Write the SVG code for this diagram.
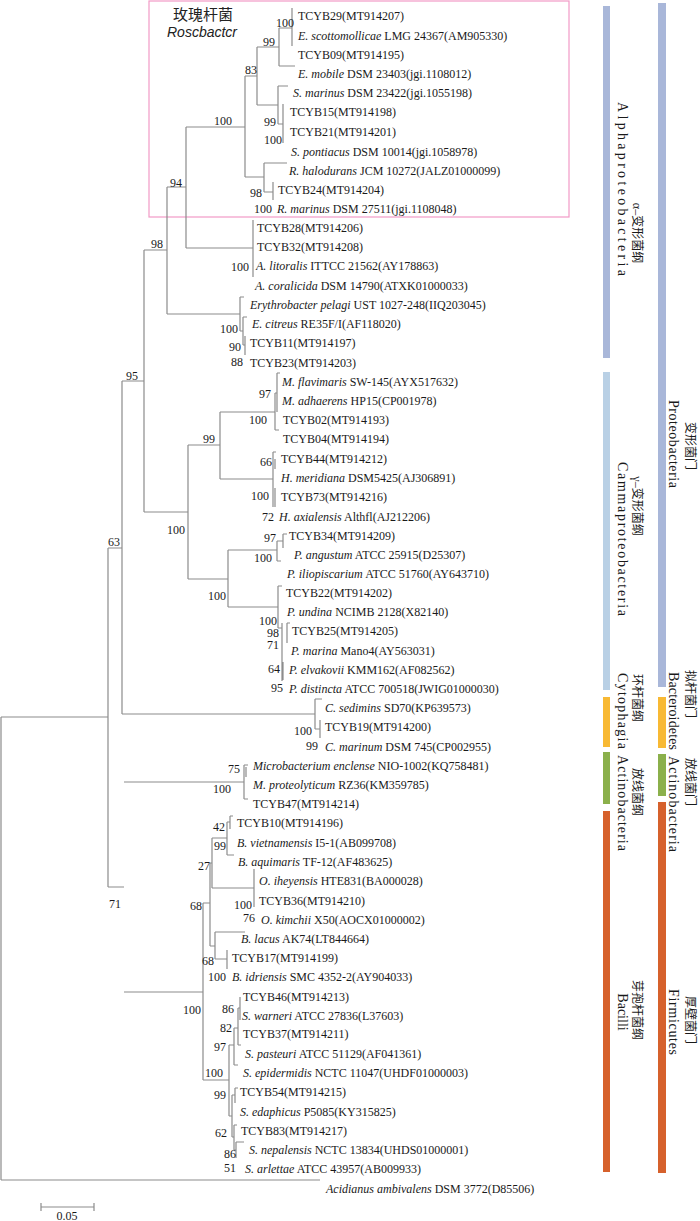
<svg xmlns="http://www.w3.org/2000/svg" width="700" height="1221" viewBox="0 0 700 1221">
<style>
.l{stroke:#8c8c8c;stroke-width:1.2;fill:none}
.t{font-family:"Liberation Serif","Times New Roman",serif;font-size:12px;fill:#1a1a1a}
.i{font-style:italic}
.b{font-family:"Liberation Serif","Times New Roman",serif;font-size:12px;fill:#1a1a1a;text-anchor:middle}
.cn{font-family:"Liberation Serif","Noto Sans CJK SC",serif;font-size:12px;fill:#1a1a1a;text-anchor:middle}
.en{font-family:"Liberation Serif","Times New Roman",serif;font-size:14px;fill:#1a1a1a;text-anchor:middle}
</style>
<rect width="700" height="1221" fill="#ffffff"/>
<g id="roseobacter-box">
<rect x="149" y="1" width="420" height="216" fill="none" stroke="#f29ac6" stroke-width="1.2"/>
<text x="203" y="20" font-family="Noto Sans CJK SC,sans-serif" font-size="15" text-anchor="middle" fill="#222">玫瑰杆菌</text>
<text x="202" y="37" font-family="Liberation Sans,Arial,sans-serif" font-size="14" font-style="italic" text-anchor="middle" fill="#222">Roscbactcr</text>
</g>
<g id="connectors" class="l">
<path d="M1,717V1180M1,717H108M1,1180H320M108,548V887M108,548H122M108,887H124M122,381V714M122,381H144M122,714H315M144,250V512M144,250H167M144,512H188M167,187V314M167,187H186M167,314H240M186,127V248M186,127H245M186,248H253M253,220V277"/>
<path d="M245,76V177M245,76H257M245,177H264M257,47V105M257,47H279M257,105H278M279,28V66M279,28H292M279,66H295M292,8V46M278,86V124M278,86H288M278,124H283M283,104V143M264,163V192M264,163H287M264,192H273M273,182V200"/>
<path d="M240,297V331M240,297H244M240,331H243M243,317V345M243,317H247M243,345H245M245,336V355"/>
<path d="M188,445V579M188,445H220M188,579H228M220,412V479M220,412H275M220,479H273M275,393V430M275,393H277M277,373V412M277,373H280M275,430H279M273,452V507M273,452H276M275,459V469M275,488V507M228,550V607M228,550H277M228,607H278M277,541V561M277,541H283M277,561H281M283,534V548M283,534H287M278,586V628M278,586H282M278,628H282M282,623V681M287,623V643M287,623H290M283,662V680"/>
<path d="M315,699V729M315,699H322M315,729H320M320,720V738"/>
<path d="M124,782H244M244,765V799M244,765H248M244,799H248M246,767V777"/>
<path d="M124,992H203M203,903V1080M203,903H210M203,1080H229M210,863V946M210,863H212M210,946H215M212,838V888M212,838H227M212,888H254M227,822V855M227,822H230M227,855H234M230,816V829M230,816H233M254,869V907M215,932V959M215,932H245M215,959H227M227,950V969"/>
<path d="M229,1045V1116M229,1045H234M229,1116H232M234,1028V1065M234,1028H238M234,1065H238M238,1008V1045M238,1008H240M238,1045H241M240,997V1020M232,1095V1137M232,1095H235M232,1137H234M235,1088V1103M235,1088H238M234,1125V1150M234,1125H237M234,1150H236M236,1142V1158M236,1142H244"/>
</g>
<g id="leaves" class="t">
<g id="n1"><text x="298" y="20">TCYB29(MT914207)</text></g>
<g id="n2"><text x="298" y="40"><tspan class="i">E. scottomollicae</tspan> LMG 24367(AM905330)</text></g>
<g id="n3"><text x="298" y="59">TCYB09(MT914195)</text></g>
<g id="n4"><text x="298" y="78"><tspan class="i">E. mobile</tspan> DSM 23403(jgi.1108012)</text></g>
<g id="n5"><text x="293" y="97"><tspan class="i">S. marinus</tspan> DSM 23422(jgi.1055198)</text></g>
<g id="n6"><text x="290" y="116">TCYB15(MT914198)</text></g>
<g id="n7"><text x="290" y="136">TCYB21(MT914201)</text></g>
<g id="n8"><text x="291" y="156"><tspan class="i">S. pontiacus</tspan> DSM 10014(jgi.1058978)</text></g>
<g id="n9"><text x="289" y="175"><tspan class="i">R. halodurans</tspan> JCM 10272(JALZ01000099)</text></g>
<g id="n10"><text x="278" y="194">TCYB24(MT914204)</text></g>
<g id="n11"><text x="277" y="213"><tspan class="i">R. marinus</tspan> DSM 27511(jgi.1108048)</text></g>
<g id="n12"><text x="257" y="232">TCYB28(MT914206)</text></g>
<g id="n13"><text x="257" y="251">TCYB32(MT914208)</text></g>
<g id="n14"><text x="256" y="270"><tspan class="i">A. litoralis</tspan> ITTCC 21562(AY178863)</text></g>
<g id="n15"><text x="255" y="290"><tspan class="i">A. coralicida</tspan> DSM 14790(ATXK01000033)</text></g>
<g id="n16"><text x="250" y="309"><tspan class="i">Erythrobacter pelagi</tspan> UST 1027-248(IIQ203045)</text></g>
<g id="n17"><text x="252" y="328"><tspan class="i">E. citreus</tspan> RE35F/I(AF118020)</text></g>
<g id="n18"><text x="250" y="347">TCYB11(MT914197)</text></g>
<g id="n19"><text x="250" y="367">TCYB23(MT914203)</text></g>
<g id="n20"><text x="282" y="386"><tspan class="i">M. flavimaris</tspan> SW-145(AYX517632)</text></g>
<g id="n21"><text x="282" y="405"><tspan class="i">M. adhaerens</tspan> HP15(CP001978)</text></g>
<g id="n22"><text x="283" y="424">TCYB02(MT914193)</text></g>
<g id="n23"><text x="283" y="443">TCYB04(MT914194)</text></g>
<g id="n24"><text x="281" y="463">TCYB44(MT914212)</text></g>
<g id="n25"><text x="281" y="482"><tspan class="i">H. meridiana</tspan> DSM5425(AJ306891)</text></g>
<g id="n26"><text x="281" y="501">TCYB73(MT914216)</text></g>
<g id="n27"><text x="279" y="521"><tspan class="i">H. axialensis</tspan> Althfl(AJ212206)</text></g>
<g id="n28"><text x="289" y="540">TCYB34(MT914209)</text></g>
<g id="n29"><text x="294" y="559"><tspan class="i">P. angustum</tspan> ATCC 25915(D25307)</text></g>
<g id="n30"><text x="287" y="578"><tspan class="i">P. iliopiscarium</tspan> ATCC 51760(AY643710)</text></g>
<g id="n31"><text x="286" y="597">TCYB22(MT914202)</text></g>
<g id="n32"><text x="287" y="616"><tspan class="i">P. undina</tspan> NCIMB 2128(X82140)</text></g>
<g id="n33"><text x="292" y="635">TCYB25(MT914205)</text></g>
<g id="n34"><text x="291" y="655"><tspan class="i">P. marina</tspan> Mano4(AY563031)</text></g>
<g id="n35"><text x="289" y="674"><tspan class="i">P. elvakovii</tspan> KMM162(AF082562)</text></g>
<g id="n36"><text x="289" y="693"><tspan class="i">P. distincta</tspan> ATCC 700518(JWIG01000030)</text></g>
<g id="n37"><text x="325" y="712"><tspan class="i">C. sedimins</tspan> SD70(KP639573)</text></g>
<g id="n38"><text x="325" y="731">TCYB19(MT914200)</text></g>
<g id="n39"><text x="325" y="751"><tspan class="i">C. marinum</tspan> DSM 745(CP002955)</text></g>
<g id="n40"><text x="253" y="770"><tspan class="i">Microbacterium enclense</tspan>  NIO-1002(KQ758481)</text></g>
<g id="n41"><text x="253" y="789"><tspan class="i">M. proteolyticum</tspan> RZ36(KM359785)</text></g>
<g id="n42"><text x="253" y="808">TCYB47(MT914214)</text></g>
<g id="n43"><text x="237" y="827">TCYB10(MT914196)</text></g>
<g id="n44"><text x="237" y="847"><tspan class="i">B. vietnamensis</tspan> I5-1(AB099708)</text></g>
<g id="n45"><text x="238" y="866"><tspan class="i">B. aquimaris</tspan> TF-12(AF483625)</text></g>
<g id="n46"><text x="259" y="885"><tspan class="i">O. iheyensis</tspan> HTE831(BA000028)</text></g>
<g id="n47"><text x="259" y="905">TCYB36(MT914210)</text></g>
<g id="n48"><text x="261" y="924"><tspan class="i">O. kimchii</tspan> X50(AOCX01000002)</text></g>
<g id="n49"><text x="241" y="943"><tspan class="i">B. lacus</tspan> AK74(LT844664)</text></g>
<g id="n50"><text x="232" y="962">TCYB17(MT914199)</text></g>
<g id="n51"><text x="232" y="981"><tspan class="i">B. idriensis</tspan> SMC 4352-2(AY904033)</text></g>
<g id="n52"><text x="243" y="1001">TCYB46(MT914213)</text></g>
<g id="n53"><text x="242" y="1020"><tspan class="i">S. warneri</tspan> ATCC 27836(L37603)</text></g>
<g id="n54"><text x="243" y="1038">TCYB37(MT914211)</text></g>
<g id="n55"><text x="245" y="1058"><tspan class="i">S. pasteuri</tspan> ATCC 51129(AF041361)</text></g>
<g id="n56"><text x="243" y="1077"><tspan class="i">S. epidermidis</tspan> NCTC 11047(UHDF01000003)</text></g>
<g id="n57"><text x="240" y="1096">TCYB54(MT914215)</text></g>
<g id="n58"><text x="240" y="1116"><tspan class="i">S. edaphicus</tspan> P5085(KY315825)</text></g>
<g id="n59"><text x="241" y="1135">TCYB83(MT914217)</text></g>
<g id="n60"><text x="249" y="1154"><tspan class="i">S. nepalensis</tspan> NCTC 13834(UHDS01000001)</text></g>
<g id="n61"><text x="245" y="1173"><tspan class="i">S. arlettae</tspan> ATCC 43957(AB009933)</text></g>
<g id="n62"><text x="326" y="1193"><tspan class="i">Acidianus ambivalens</tspan> DSM 3772(D85506)</text></g>
</g>
<g id="bootstrap" class="b">
<text x="285" y="27">100</text><text x="269" y="46">99</text><text x="251" y="74">83</text><text x="223" y="125">100</text><text x="270" y="126">99</text><text x="273" y="144">100</text><text x="256" y="197">98</text><text x="263" y="213">100</text><text x="176" y="187">94</text><text x="157" y="248">98</text><text x="240" y="271">100</text><text x="229" y="333">100</text><text x="235" y="351">90</text><text x="237" y="366">88</text><text x="132" y="380">95</text><text x="265" y="398">97</text><text x="258" y="424">100</text><text x="209" y="443">99</text><text x="266" y="466">66</text><text x="260" y="500">100</text><text x="268" y="521">72</text><text x="176" y="534">100</text><text x="270" y="542">97</text><text x="263" y="562">100</text><text x="114" y="546">63</text><text x="217" y="600">100</text><text x="268" y="625">100</text><text x="273" y="637">98</text><text x="273" y="649">71</text><text x="274" y="673">64</text><text x="277" y="692">95</text><text x="303" y="735">100</text><text x="312" y="750">99</text><text x="234" y="773">75</text><text x="222" y="793">100</text><text x="115" y="908">71</text><text x="219" y="831">42</text><text x="220" y="850">99</text><text x="204" y="870">27</text><text x="196" y="910">68</text><text x="243" y="909">100</text><text x="249" y="922">76</text><text x="208" y="965">68</text><text x="217" y="981">100</text><text x="192" y="1014">100</text><text x="228" y="1013">86</text><text x="226" y="1032">82</text><text x="220" y="1051">97</text><text x="214" y="1077">100</text><text x="220" y="1099">99</text><text x="221" y="1137">62</text><text x="230" y="1158">86</text><text x="230" y="1172">51</text>
</g>
<g id="scale-bar">
<path class="l" d="M41,1207H94M41,1203V1211M94,1203V1211"/>
<text class="b" x="67" y="1220">0.05</text>
</g>
<g id="class-bars">
<rect x="603" y="6" width="7" height="352" fill="#a9b7d9"/>
<rect x="603" y="372" width="7" height="318" fill="#b9d0e5"/>
<rect x="603" y="697" width="7" height="50" fill="#f8b934"/>
<rect x="603" y="752" width="7" height="52" fill="#8bb04b"/>
<rect x="603" y="811" width="7" height="361" fill="#d6612c"/>
</g>
<g id="phylum-bars">
<rect x="658" y="3" width="8" height="684" fill="#a9b7d9"/>
<rect x="658" y="697" width="8" height="51" fill="#f8b934"/>
<rect x="658" y="754" width="8" height="42" fill="#8bb04b"/>
<rect x="658" y="802" width="8" height="371" fill="#d6612c"/>
</g>
<g id="class-labels">
<text class="cn" transform="translate(633,233) rotate(90)">α–变形菌纲</text>
<text class="en" transform="translate(618,189) rotate(90)" textLength="174" lengthAdjust="spacing">Alphaproteobacteria</text>
<text class="cn" transform="translate(633,506) rotate(90)">γ–变形菌纲</text>
<text class="en" transform="translate(618,539) rotate(90)" textLength="154" lengthAdjust="spacing">Cammaproteobacteria</text>
<text class="cn" transform="translate(633,698) rotate(90)">环杆菌纲</text>
<text class="en" transform="translate(618,711) rotate(90)" textLength="76" lengthAdjust="spacing">Cytophagia</text>
<text class="cn" transform="translate(633,792) rotate(90)">放线菌纲</text>
<text class="en" transform="translate(618,803) rotate(90)" textLength="96" lengthAdjust="spacing">Actinobacteria</text>
<text class="cn" transform="translate(633,1010) rotate(90)">芽孢杆菌纲</text>
<text class="en" transform="translate(618,1012) rotate(90)">Bacilli</text>
</g>
<g id="phylum-labels">
<text class="cn" transform="translate(686,446) rotate(90)">变形菌门</text>
<text class="en" transform="translate(669,444) rotate(90)" textLength="88" lengthAdjust="spacing">Proteobacteria</text>
<text class="cn" transform="translate(686,694) rotate(90)">拟杆菌门</text>
<text class="en" transform="translate(669,711) rotate(90)" textLength="78" lengthAdjust="spacing">Bacteroidetes</text>
<text class="cn" transform="translate(686,782) rotate(90)">放线菌门</text>
<text class="en" transform="translate(669,804) rotate(90)" textLength="96" lengthAdjust="spacing">Actinobacteria</text>
<text class="cn" transform="translate(686,1020) rotate(90)">厚壁菌门</text>
<text class="en" transform="translate(669,1022) rotate(90)" textLength="66" lengthAdjust="spacing">Firmicutes</text>
</g>
</svg>
